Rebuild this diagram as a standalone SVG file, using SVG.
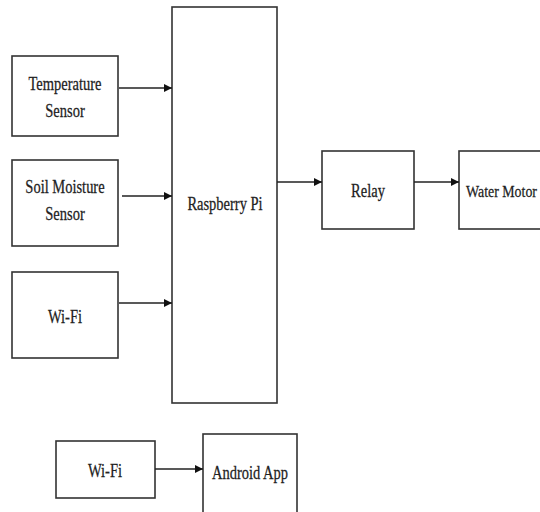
<svg xmlns="http://www.w3.org/2000/svg" width="540" height="512" viewBox="0 0 540 512">
<style>
rect.b{fill:#fff;stroke:#333;stroke-width:1.6}
text{font-family:"Liberation Serif","Times New Roman",serif;font-size:14.5px;fill:#222;text-anchor:middle;stroke:#222;stroke-width:0.2}
.c line{stroke:#222;stroke-width:1.5}
</style>
<defs>
<marker id="ah" markerWidth="8" markerHeight="8" refX="8" refY="4" orient="auto" markerUnits="userSpaceOnUse">
<path d="M0,0 L8,4 L0,8 Z" fill="#111"/>
</marker>
</defs>
<rect width="540" height="512" fill="#fff"/>
<g id="temp"><rect class="b" x="12" y="56" width="106" height="80"/><text transform="translate(65,90) scale(1,1.3)">Temperature</text><text transform="translate(65,117) scale(1,1.3)">Sensor</text></g>
<g id="soil"><rect class="b" x="12" y="160" width="106" height="86"/><text transform="translate(65,193) scale(1,1.3)">Soil Moisture</text><text transform="translate(65,220) scale(1,1.3)">Sensor</text></g>
<g id="wifi1"><rect class="b" x="12" y="272" width="106" height="86"/><text transform="translate(65,323) scale(1,1.3)">Wi-Fi</text></g>
<g id="pi"><rect class="b" x="172" y="7" width="105" height="396"/><text transform="translate(225,210) scale(1,1.3)">Raspberry Pi</text></g>
<g id="relay"><rect class="b" x="322" y="151" width="92" height="78"/><text transform="translate(368,197) scale(1,1.3)">Relay</text></g>
<g id="motor"><rect class="b" x="459" y="151" width="90" height="78"/><text transform="translate(466,197) scale(1,1.3)" style="text-anchor:start;font-size:13.5px" textLength="71" lengthAdjust="spacingAndGlyphs">Water Motor</text></g>
<g id="wifi2"><rect class="b" x="56" y="441" width="99" height="57"/><text transform="translate(105,477) scale(1,1.3)">Wi-Fi</text></g>
<g id="app"><rect class="b" x="203" y="434" width="94" height="84"/><text transform="translate(250,479) scale(1,1.3)">Android App</text></g>
<g class="c">
<line x1="119" y1="88" x2="172" y2="88" marker-end="url(#ah)"/>
<line x1="122" y1="196" x2="172" y2="196" marker-end="url(#ah)"/>
<line x1="119" y1="303" x2="172" y2="303" marker-end="url(#ah)"/>
<line x1="277" y1="182" x2="322" y2="182" marker-end="url(#ah)"/>
<line x1="414" y1="182" x2="459" y2="182" marker-end="url(#ah)"/>
<line x1="155" y1="469" x2="203" y2="469" marker-end="url(#ah)"/>
</g>
</svg>
